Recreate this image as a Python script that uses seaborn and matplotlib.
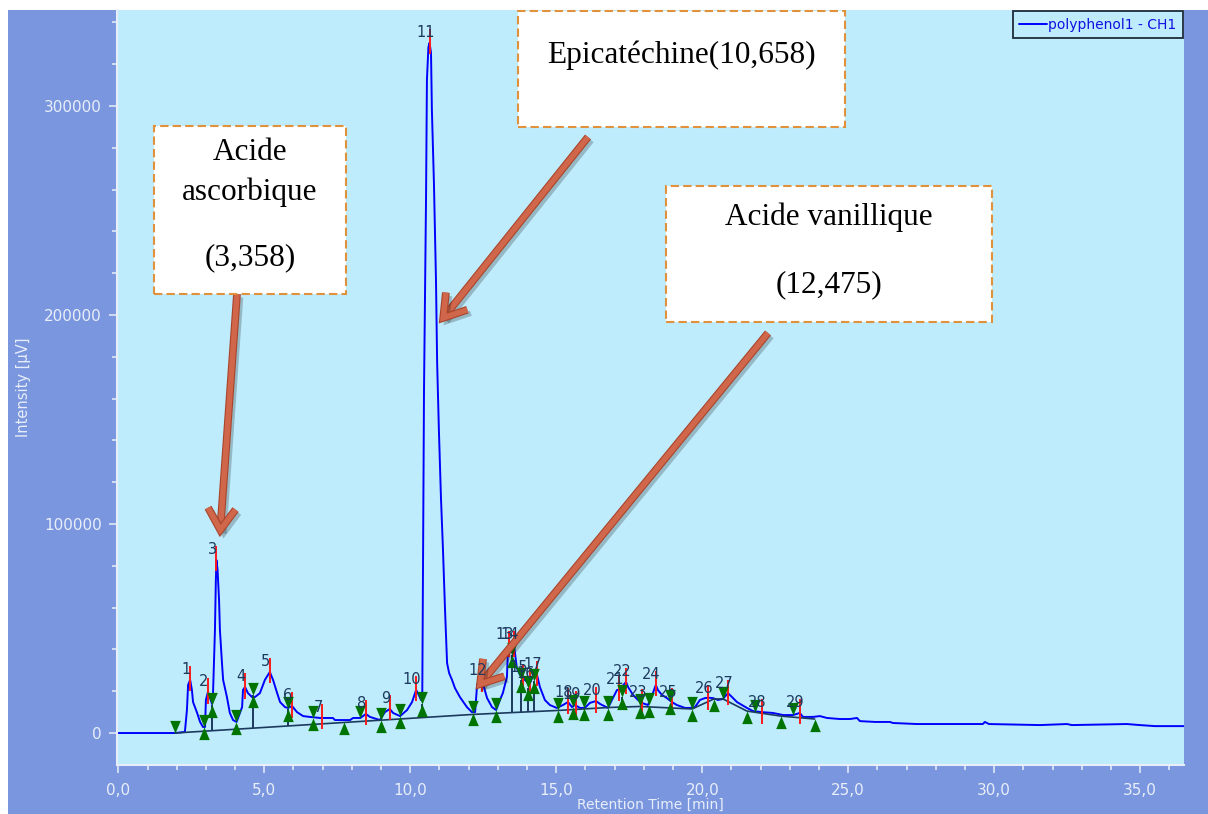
import numpy as np
import pandas as pd
import matplotlib
matplotlib.use("Agg")
import matplotlib.pyplot as plt
import seaborn as sns
from matplotlib.patches import Rectangle, ArrowStyle
from matplotlib.ticker import MultipleLocator, FuncFormatter
import matplotlib.patheffects as pe

# ---- chromatogram trace: retention time [min] / detector signal [µV] ----
retention_time = [
    0.00, 1.94, 2.28, 2.35, 2.39, 2.46, 2.52, 2.56, 2.70, 2.80, 2.90, 2.97, 3.00, 3.07,
    3.14, 3.21, 3.24, 3.31, 3.34, 3.36, 3.40, 3.45, 3.48, 3.55, 3.59, 3.72, 3.82, 3.93,
    4.05, 4.24, 4.27, 4.34, 4.44, 4.58, 4.68, 4.85, 5.02, 5.19, 5.30, 5.44, 5.54, 5.71,
    5.81, 5.95, 6.12, 6.33, 6.56, 6.91, 7.35, 7.42, 7.94, 8.04, 8.29, 8.48, 8.62, 8.96,
    9.13, 9.30, 9.41, 9.65, 9.89, 10.06, 10.20, 10.26, 10.37, 10.41, 10.44, 10.47, 10.54,
    10.57, 10.62, 10.66, 10.71, 10.74, 10.81, 10.88, 10.92, 10.98, 11.05, 11.12, 11.19,
    11.26, 11.33, 11.43, 11.53, 11.70, 11.94, 12.11, 12.22, 12.29, 12.40, 12.47, 12.55,
    12.63, 12.80, 12.94, 13.07, 13.17, 13.31, 13.35, 13.38, 13.48, 13.55, 13.65, 13.76,
    13.86, 14.00, 14.10, 14.20, 14.34, 14.44, 14.61, 14.78, 15.02, 15.23, 15.40, 15.54,
    15.64, 15.81, 15.98, 16.15, 16.36, 16.50, 16.77, 16.94, 17.08, 17.15, 17.39, 17.46,
    17.63, 17.80, 17.93, 18.14, 18.21, 18.31, 18.41, 18.48, 18.62, 18.79, 18.96, 19.13,
    19.41, 19.58, 19.75, 19.92, 20.09, 20.20, 20.37, 20.54, 20.71, 20.88, 21.02, 21.19,
    21.36, 21.53, 21.74, 22.04, 22.42, 22.77, 23.11, 23.34, 23.45, 23.79, 24.03, 24.27,
    24.71, 25.06, 25.30, 25.40, 25.92, 26.43, 26.53, 27.35, 29.61, 29.68, 29.82, 31.57,
    32.49, 32.66, 34.54, 34.99, 35.51, 36.50,
]
intensity = [
    0, 0, 500, 11000, 23000, 25400, 20600, 14800, 9600, 5300, 2900, 2900, 15800, 19600,
    16700, 13900, 17200, 49300, 72700, 82800, 78000, 63600, 49300, 33500, 25400, 17200, 9600, 6200,
    5300, 12400, 20600, 22000, 19100, 17200, 17200, 19100, 25400, 29200, 25400, 19100, 14800, 12400,
    12000, 12900, 10000, 8100, 7700, 7200, 7200, 6200, 6200, 7200, 7200, 9100, 7700, 6200,
    10000, 11500, 9600, 8100, 11000, 14800, 20600, 19100, 15800, 15500, 87600, 164000, 256500,
    312500, 328000, 330200, 325400, 298100, 263200, 216800, 177000, 145000, 112900, 87600, 58900,
    33500, 28700, 25400, 21500, 17200, 12400, 10000, 10000, 23400, 23900, 24900, 20600,
    16700, 12400, 11000, 15800, 19100, 26800, 41200, 42100, 38700, 42100, 31100, 27800,
    26300, 24400, 23900, 27300, 27800, 22000, 15800, 13400, 12000, 13400, 14800, 12400,
    13400, 12000, 12000, 14400, 15300, 13900, 12000, 16700, 20600, 20600, 24400, 22000,
    18200, 15800, 14400, 13400, 15800, 19100, 23000, 20600, 18200, 16700, 14800, 13400,
    12000, 12000, 12400, 15800, 16700, 16900, 16700, 15800, 16300, 19100, 17200, 14800,
    13400, 12000, 10500, 10000, 9600, 8600, 8600, 9600, 7700, 7700, 8100, 7200,
    6700, 6700, 7200, 5700, 5300, 5300, 4800, 4300, 4300, 5300, 4300, 3800,
    4300, 3800, 4300, 3800, 3300, 3300,
]

# ---- integrated peaks (apex) ----
peak_number = list(range(1, 30))
peak_time = [2.46, 3.07, 3.36, 4.34, 5.19, 5.95, 6.98, 8.48, 9.30, 10.20, 10.66, 12.47,
             13.38, 13.55, 13.86, 14.10, 14.34, 15.40, 15.68, 16.36, 17.15, 17.39, 17.93,
             18.41, 18.96, 20.20, 20.88, 22.04, 23.34]
peak_height = [25400, 19600, 82800, 22000, 29200, 12900, 7200, 9100, 11500, 20600, 330200,
               24900, 42100, 42100, 26300, 23900, 27800, 14800, 13400, 15300, 20600, 24400,
               14400, 23000, 14800, 16700, 19100, 10000, 9600]

# ---- integration events ----
start_time = [1.94, 8.28, 20.71, 21.80, 23.11]
start_level = [0, 7200, 16300, 10000, 8600]
end_time = [7.73, 20.40, 21.53, 22.69, 23.85]
end_level = [5300, 16300, 10500, 8100, 6700]
valley_time = [2.93, 3.21, 4.03, 4.61, 5.81, 6.67, 9.00, 9.65, 10.40, 12.15, 12.94, 13.48,
               13.79, 14.03, 14.24, 15.06, 15.57, 15.95, 16.77, 17.25, 17.87, 18.18, 18.90, 19.65]
valley_level = [2900, 13400, 5300, 18200, 11500, 7200, 6200, 8100, 13900, 9600, 11000, 37300,
                25400, 21500, 24900, 11000, 12400, 12000, 12000, 17200, 12900, 13400, 14800, 11500]
valley_split = [False, True, False, True, True, False, False, False, True, False, False, True,
                True, True, True, False, False, False, False, True, False, False, False, False]

baseline_time = [1.94, 12.15, 15.06, 16.77, 17.87, 19.65, 20.40, 20.71, 21.53, 22.69, 23.85]
baseline_level = [0, 8900, 10800, 12200, 12700, 11500, 16300, 16300, 10500, 8100, 6700]

# ---- colours ----
FRAME_BLUE = "#7A96DE"
PLOT_BG = "#BEECFC"
TRACE = "#0000FF"
EVENT_GREEN = "#007400"
APEX_RED = "#FF1A1A"
NAVY = "#1C3A5E"
AXIS_LIGHT = "#E8EEF9"
ARROW = "#D0674A"

sns.set_theme(style="ticks")
plt.rcParams["font.family"] = ["DejaVu Sans"]

W, H = 1208, 814
fig = plt.figure(figsize=(W / 100, H / 100), dpi=100)
fig.patch.set_facecolor("white")
fig.add_artist(Rectangle((8 / W, 0), 1 - 8 / W, 1 - 10 / H, transform=fig.transFigure,
                         facecolor=FRAME_BLUE, edgecolor="none", zorder=-5))

ax = fig.add_axes([117 / W, 1 - 765 / H, (1184 - 117) / W, (765 - 10) / H])
ax.set_facecolor(PLOT_BG)

trace = pd.DataFrame({"Retention Time [min]": retention_time, "Intensity [µV]": intensity})
sns.lineplot(data=trace, x="Retention Time [min]", y="Intensity [µV]", ax=ax, color=TRACE,
             lw=1.4, sort=False, estimator=None, label="polyphenol1 - CH1", zorder=2)

# baseline and peak splits
ax.plot(baseline_time, baseline_level, color=NAVY, lw=1.2, zorder=3)
for t, lev, split in zip(valley_time, valley_level, valley_split):
    if split:
        ax.vlines(t, np.interp(t, baseline_time, baseline_level), lev, color=NAVY, lw=1.4, zorder=3)

# apex ticks
ax.vlines(peak_time, np.array(peak_height) - 5500, np.array(peak_height) + 6500,
          color=APEX_RED, lw=1.4, zorder=4)

# event markers: tip sits on the integration point
tri_down = [(0, 0), (-0.42, 1), (0.42, 1), (0, 0)]
tri_up = [(0, 0), (-0.42, -1), (0.42, -1), (0, 0)]
msize = 330
ax.scatter(start_time + valley_time, start_level + valley_level, marker=tri_down, s=msize,
           color=EVENT_GREEN, linewidths=0, zorder=5)
ax.scatter(end_time + valley_time, end_level + valley_level, marker=tri_up, s=msize,
           color=EVENT_GREEN, linewidths=0, zorder=5)

# peak numbers
for n, t, h in zip(peak_number, peak_time, peak_height):
    ax.annotate(str(n), (t, h), xytext=(-3, 4), textcoords="offset points",
                ha="center", va="baseline", fontsize=10.5, color=NAVY, zorder=14)

# axes styling
ax.set_xlim(-0.045, 36.5)
ax.set_ylim(-15300, 345900)
ax.xaxis.set_major_locator(MultipleLocator(5))
ax.xaxis.set_minor_locator(MultipleLocator(1))
ax.xaxis.set_major_formatter(FuncFormatter(lambda v, _: f"{v:.1f}".replace(".", ",")))
ax.yaxis.set_major_locator(MultipleLocator(100000))
ax.yaxis.set_minor_locator(MultipleLocator(20000))
ax.yaxis.set_major_formatter(FuncFormatter(lambda v, _: f"{v:.0f}"))
ax.tick_params(axis="both", which="major", direction="out", length=6, width=1.1,
               color=AXIS_LIGHT, labelcolor=AXIS_LIGHT, labelsize=11, pad=5)
ax.tick_params(axis="x", which="major", pad=7)
ax.tick_params(axis="both", which="minor", direction="out", length=3.5, width=1.1,
               color=AXIS_LIGHT)
for side in ("top", "right"):
    ax.spines[side].set_visible(False)
for side in ("left", "bottom"):
    ax.spines[side].set_color(AXIS_LIGHT)
    ax.spines[side].set_linewidth(1.5)

ax.set_xlabel("Retention Time [min]", color=AXIS_LIGHT, fontsize=10, va="top")
ax.xaxis.set_label_coords(0.5, -0.044)
ax.set_ylabel("Intensity [µV]", color=AXIS_LIGHT, fontsize=10.5)
ax.yaxis.set_label_coords(-0.081, 0.5)

leg = ax.legend(loc="upper right", borderaxespad=0.1, frameon=True, fancybox=False,
                handlelength=2.0, handletextpad=0.1, borderpad=0.45, fontsize=10,
                labelcolor="#1010E0")
leg.get_frame().set_edgecolor("#1E2B38")
leg.get_frame().set_linewidth(1.3)
leg.get_frame().set_facecolor(PLOT_BG)
leg.get_frame().set_alpha(1)


# ---- call-out boxes ----
def px_box(x0, y0, x1, y1):
    fig.add_artist(Rectangle((x0 / W, 1 - y1 / H), (x1 - x0) / W, (y1 - y0) / H,
                             transform=fig.transFigure, facecolor="white",
                             edgecolor="#E0913C", lw=1.5, linestyle=(0, (4, 2)), zorder=10))


def px_text(x, y, s):
    fig.text(x / W, 1 - y / H, s, ha="center", va="center", fontsize=22.5,
             family="Liberation Serif", color="black", zorder=11)


px_box(154, 126, 346, 294)
px_text(250, 153, "Acide")
px_text(250, 192, "ascorbique")
px_text(250, 258, "(3,358)")

px_box(518, 11, 845, 127)
px_text(681, 55, "Epicatéchine(10,658)")

px_box(666, 186, 992, 322)
px_text(829, 217, "Acide vanillique")
px_text(829, 285, "(12,475)")

arrow_effects = [pe.SimpleLineShadow(offset=(2.5, -2.5), shadow_color="black", alpha=0.22),
                 pe.Stroke(linewidth=5.6, foreground="#A9452D"), pe.Normal()]
for (t, lev), (tx, ty) in [((3.48, 94700), (237, 294)),
                           ((11.02, 196700), (588, 137)),
                           ((12.28, 21500), (768, 333))]:
    ax.annotate("", xy=(t, lev), xytext=(tx, H - ty), textcoords="figure pixels",
                annotation_clip=False, zorder=12,
                arrowprops=dict(arrowstyle=ArrowStyle("->", head_length=0.7, head_width=0.45),
                                mutation_scale=22, color=ARROW, lw=4, shrinkA=0, shrinkB=0,
                                joinstyle="miter", capstyle="butt",
                                path_effects=arrow_effects))

fig.savefig("out.png", dpi=100, facecolor=fig.get_facecolor())
